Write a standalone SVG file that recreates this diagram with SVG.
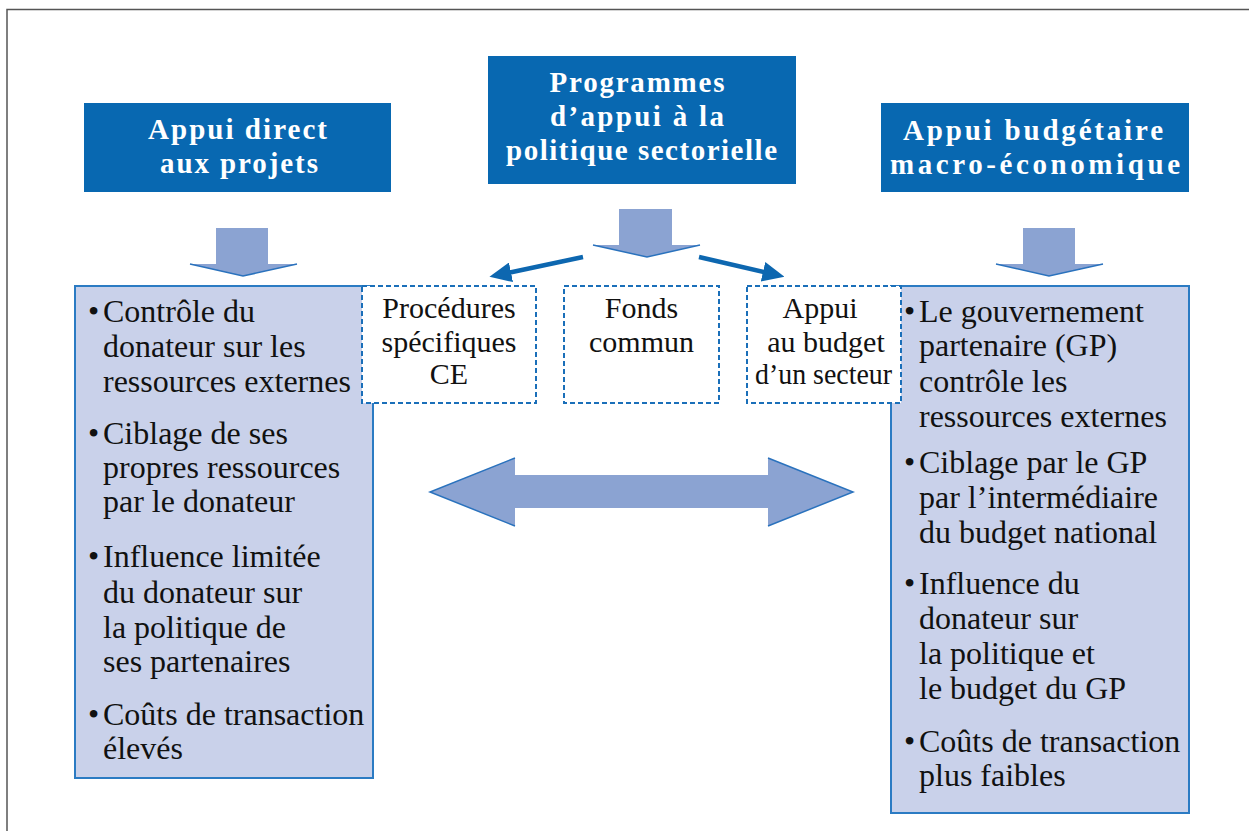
<svg xmlns="http://www.w3.org/2000/svg" width="1249" height="831" viewBox="0 0 1249 831">
<style>
.hdr{fill:#0868b1}
.ht{font-family:"Liberation Serif","Times New Roman",serif;font-weight:bold;font-size:29px;fill:#ffffff;text-anchor:middle}
.panel{fill:#c9d1ea;stroke:#2b7bc3;stroke-width:2}
.bt{font-family:"Liberation Serif","Times New Roman",serif;font-size:32px;fill:#111111}
.dot{fill:#ffffff;stroke:#1a6fb9;stroke-width:2;stroke-dasharray:5 3}
.dt{font-family:"Liberation Serif","Times New Roman",serif;font-size:30px;fill:#111111;text-anchor:middle}
.blk{fill:#8ba3d2;stroke:none}
.blke{fill:none;stroke:#2a72bd;stroke-width:1.5}
.conn{stroke:#0d67b0;stroke-width:4.5;fill:none}
</style>
<defs>
<marker id="ah" markerUnits="userSpaceOnUse" markerWidth="22" markerHeight="20" viewBox="0 0 22 20" refX="1" refY="10" orient="auto">
<path d="M0,0 L22,10 L0,20 z" fill="#0d67b0"/>
</marker>
</defs>
<rect x="0" y="0" width="1249" height="831" fill="#ffffff"/>
<path d="M7,831 L7,9.5 L1249,9.5" fill="none" stroke="#555555" stroke-width="1.5"/>

<g id="hdr-left">
<rect class="hdr" x="84" y="103" width="307" height="89"/>
<text class="ht" x="237.5" y="139" textLength="179" lengthAdjust="spacing">Appui direct</text>
<text class="ht" x="239" y="173" textLength="158" lengthAdjust="spacing">aux projets</text>
</g>
<g id="hdr-center">
<rect class="hdr" x="488" y="56" width="308" height="128"/>
<text class="ht" x="637" y="92" textLength="175" lengthAdjust="spacing">Programmes</text>
<text class="ht" x="637" y="126" textLength="174" lengthAdjust="spacing">d’appui à la</text>
<text class="ht" x="641.5" y="160" textLength="271" lengthAdjust="spacing">politique sectorielle</text>
</g>
<g id="hdr-right">
<rect class="hdr" x="881" y="103" width="308" height="89"/>
<text class="ht" x="1033" y="140" textLength="260" lengthAdjust="spacing">Appui budgétaire</text>
<text class="ht" x="1035" y="174" textLength="290" lengthAdjust="spacing">macro-économique</text>
</g>

<g id="panel-left">
<rect class="panel" x="75" y="286" width="298" height="492"/>
<text class="bt" x="88" y="322">•</text><text class="bt" x="103" y="322">Contrôle du</text>
<text class="bt" x="103" y="357">donateur sur les</text>
<text class="bt" x="103" y="392">ressources externes</text>
<text class="bt" x="88" y="444">•</text><text class="bt" x="103" y="444">Ciblage de ses</text>
<text class="bt" x="103" y="478">propres ressources</text>
<text class="bt" x="103" y="512">par le donateur</text>
<text class="bt" x="88" y="567">•</text><text class="bt" x="103" y="567">Influence limitée</text>
<text class="bt" x="103" y="603">du donateur sur</text>
<text class="bt" x="103" y="638">la politique de</text>
<text class="bt" x="103" y="672">ses partenaires</text>
<text class="bt" x="88" y="725">•</text><text class="bt" x="103" y="725">Coûts de transaction</text>
<text class="bt" x="103" y="759">élevés</text>
</g>

<g id="panel-right">
<rect class="panel" x="891" y="286" width="298" height="527"/>
<text class="bt" x="904" y="322">•</text><text class="bt" x="919" y="322">Le gouvernement</text>
<text class="bt" x="919" y="356">partenaire (GP)</text>
<text class="bt" x="919" y="392">contrôle les</text>
<text class="bt" x="919" y="427">ressources externes</text>
<text class="bt" x="904" y="473">•</text><text class="bt" x="919" y="473">Ciblage par le GP</text>
<text class="bt" x="919" y="508">par l’intermédiaire</text>
<text class="bt" x="919" y="543">du budget national</text>
<text class="bt" x="904" y="594">•</text><text class="bt" x="919" y="594">Influence du</text>
<text class="bt" x="919" y="629">donateur sur</text>
<text class="bt" x="919" y="664">la politique et</text>
<text class="bt" x="919" y="699">le budget du GP</text>
<text class="bt" x="904" y="752">•</text><text class="bt" x="919" y="752">Coûts de transaction</text>
<text class="bt" x="919" y="786">plus faibles</text>
</g>

<g id="box-procedures">
<rect class="dot" x="362" y="286" width="174" height="117"/>
<text class="dt" x="449" y="318">Procédures</text>
<text class="dt" x="449" y="352">spécifiques</text>
<text class="dt" x="449" y="384">CE</text>
</g>
<g id="box-fonds">
<rect class="dot" x="564" y="286" width="155" height="117"/>
<text class="dt" x="641.5" y="318">Fonds</text>
<text class="dt" x="641.5" y="352">commun</text>
</g>
<g id="box-appui">
<rect class="dot" x="747" y="286" width="154" height="117"/>
<text class="dt" x="820" y="318">Appui</text>
<text class="dt" x="826" y="352">au budget</text>
<text class="dt" x="823.5" y="384" textLength="137" lengthAdjust="spacingAndGlyphs">d’un secteur</text>
</g>

<g id="connectors">
<polygon class="blk" points="216,228 268,228 268,264 297,264 243,276 190,264 216,264"/>
<polyline class="blke" points="190,264 243,276 297,264"/>
<polygon class="blk" points="619,209 672,209 672,245 700,245 647,257 593,245 619,245"/>
<polyline class="blke" points="593,245 647,257 700,245"/>
<polygon class="blk" points="1023,228 1075,228 1075,264 1103,264 1049,276 996,264 1023,264"/>
<polyline class="blke" points="996,264 1049,276 1103,264"/>
<line class="conn" x1="583" y1="257" x2="510" y2="272.5" marker-end="url(#ah)"/>
<line class="conn" x1="699" y1="257" x2="764" y2="272" marker-end="url(#ah)"/>
<polygon class="blk" points="430,492 515,458 515,475 768,475 768,458 853,492 768,526 768,508 515,508 515,526"/>
<polyline class="blke" points="515,458 430,492 515,526"/>
<polyline class="blke" points="768,458 853,492 768,526"/>
</g>
</svg>
